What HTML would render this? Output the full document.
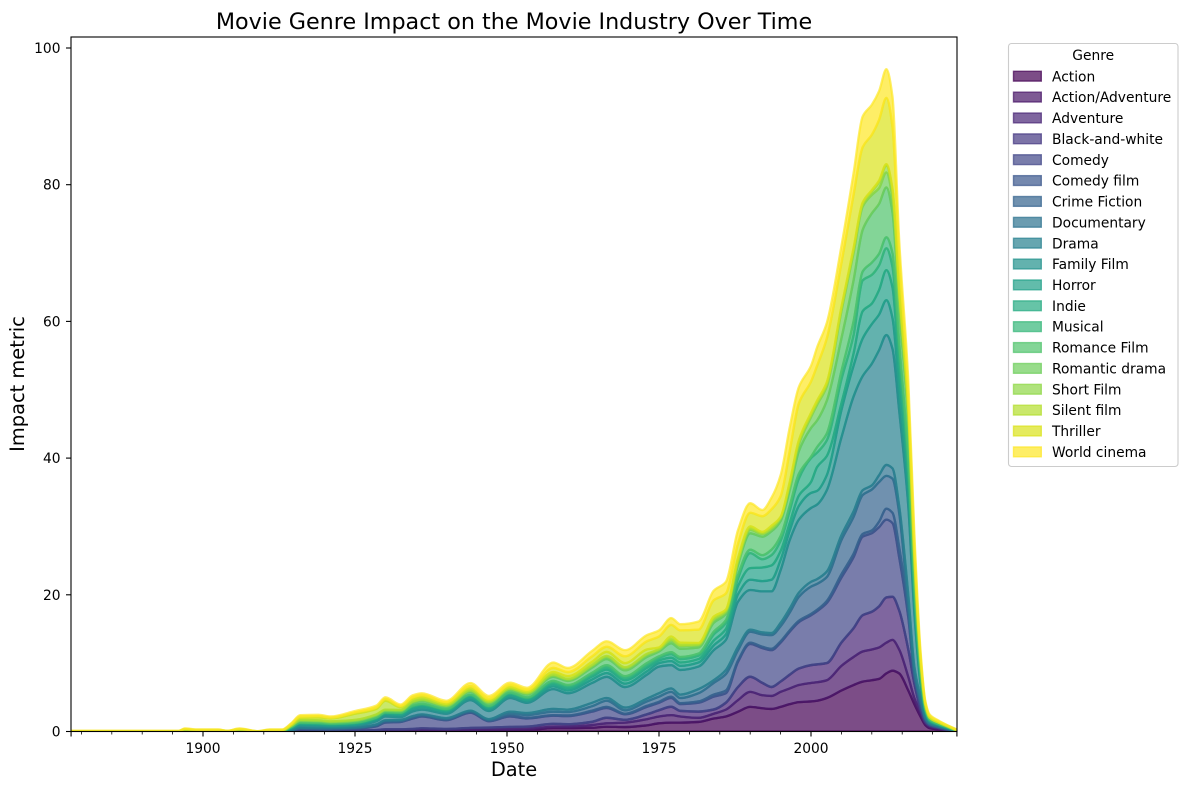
<!DOCTYPE html>
<html lang="en">
<head>
<meta charset="utf-8">
<title>Movie Genre Impact on the Movie Industry Over Time</title>
<style>
html,body{margin:0;padding:0;background:#fff;}
svg{display:block;font-family:"DejaVu Sans","Liberation Sans",sans-serif;}
</style>
</head>
<body>
<svg id="chart" xmlns="http://www.w3.org/2000/svg" width="1187" height="790" viewBox="0 0 1187 790">
  <rect x="0" y="0" width="1187" height="790" fill="#fff"/>
  <defs><clipPath id="plot-clip"><rect x="71" y="37" width="886" height="694.5"/></clipPath></defs>
  <g id="bands" clip-path="url(#plot-clip)"></g>
  <g id="ticks"></g>
  <rect x="71" y="37" width="886" height="694.5" fill="none" stroke="#000" stroke-width="1.1"/>
  <text x="514" y="29" font-size="22.25" text-anchor="middle" fill="#000">Movie Genre Impact on the Movie Industry Over Time</text>
  <text x="514" y="776" font-size="19.4" text-anchor="middle" fill="#000">Date</text>
  <text transform="translate(24 384) rotate(-90)" font-size="19.4" text-anchor="middle" fill="#000">Impact metric</text>
  <g id="legend">
    <rect x="1008.5" y="43.5" width="169.5" height="423" rx="3" ry="3" fill="#fff" fill-opacity="0.8" stroke="#ccc" stroke-width="1.1"/>
    <text x="1093.2" y="60" font-size="13.8" text-anchor="middle" fill="#000">Genre</text>
  </g>
</svg>
<script>
var genres = ["Action","Action/Adventure","Adventure","Black-and-white","Comedy","Comedy film","Crime Fiction","Documentary","Drama","Family Film","Horror","Indie","Musical","Romance Film","Romantic drama","Short Film","Silent film","Thriller","World cinema"];
var palette = ["#440154","#471467","#482576","#453781","#404688","#39558c","#33638d","#2c728e","#27808e","#21918c","#1f9f88","#25ab82","#35b779","#4ec36b","#6ccd5a","#8fd744","#b4de2c","#dae319","#fde725"];
var years = [1878,1896,1897,1899,1902.5,1904,1906,1909,1911,1913,
1914.5,1916,1919,1921,1925,1928.5,1930,1932.5,1934.5,1936,
1940,1944,1947,1950.5,1953.3,1957.6,1960,1964,1966.4,1969.4,
1973,1975,1977,1978.5,1981.5,1984,1986,1988,1990,1992,
1993.5,1995,1996.5,1998,2000,2001,2002.6,2005,2007,2008.5,2010,2011.2,
2012.4,2013.4,2014.5,2016,2017,2018,2018.8,2019.5,2021,2022.5,2024];
var action = [0,0,0,0,0,0,0,0,0,0,
.01,.02,.02,.02,.03,.05,.08,.08,.1,.12,
.1,.15,.15,.15,.2,.5,.5,.55,.7,.65,
.9,1.2,1.3,1.3,1.4,1.9,2.2,2.9,3.6,3.4,
3.3,3.6,4,4.3,4.4,4.5,4.9,6,6.8,7.3,7.5,7.7,
8.5,8.9,8.5,6,4,2.2,.95,.5,.3,.1,.01];
var actionAdventure = [0,0,0,0,0,0,0,0,0,0,
0,.01,.01,.01,.02,.03,.04,.04,.05,.06,
.05,.1,.15,.2,.2,.2,.2,.4,.5,.65,
.9,1,1.1,.9,.6,.7,1,1.7,2.2,1.9,
1.9,2.2,2.3,2.5,2.7,2.7,2.6,3.6,4.1,4.4,4.5,4.6,
4.5,4.5,3.5,2,.9,.6,.25,.2,.1,.05,.01];
var adventure = [0,0,0,0,0,0,0,0,0,0,
.02,.07,.07,.07,.07,.12,.18,.18,.2,.27,
.2,.25,.25,.3,.3,.4,.35,.45,.8,.4,
.7,.9,1.2,.8,.9,.6,1,1.9,2.2,1.8,
1.3,1.5,2,2.4,2.6,2.6,2.5,3.4,4.2,5.3,5.5,6,
6.6,6.3,5.7,4,2.1,.5,.2,.15,.1,.05,.01];
var blackAndWhite = [0,0,0,0,0,0,0,0,0,0,
0,0,0,0,.01,.02,.03,.03,.03,.03,
.03,.03,.03,.03,.02,.03,.03,.03,.03,.03,
.03,.03,.03,.03,.03,.03,.03,.03,.03,.03,
.03,.03,.03,.03,.03,.03,.03,.03,.03,.03,.03,.03,
.03,.03,.03,.03,.03,.03,.01,.01,0,0,0];
var comedy = [0,0,0,0,0,0,0,0,0,0,
.07,.25,.2,.2,.27,.53,.97,1.07,1.52,1.72,
1.27,2.22,.92,1.52,1.18,1.17,1.17,1.47,1.42,.77,
1.07,1.07,1.27,.97,1.27,1.87,1.37,3.67,4.77,5.07,
5.37,5.67,6.27,6.77,7.27,7.77,8.77,9.47,10.37,11.47,11.47,11.57,
11.37,10.77,7.77,4.67,.97,.67,.29,.14,.1,.1,.01];
var comedyFilm = [0,0,0,0,0,0,0,0,0,0,
.02,.05,.05,.05,.05,.05,.05,.05,.05,.05,
.05,.05,.05,.1,.1,.1,.1,.15,.15,.1,
.15,.15,.2,.15,.2,.3,.4,.2,.2,.2,
.2,.2,.2,.2,.2,.2,.3,.5,.5,.4,.4,.8,
1.6,1.5,1.5,.6,.2,.2,.1,.05,.02,.01,.01];
var crimeFiction = [0,0,0,0,0,0,0,0,0,0,
.03,.1,.1,.1,.1,.15,.2,.15,.2,.15,
.15,.15,.15,.3,.4,.5,.5,.65,.9,.5,
.65,.75,.7,.75,1.2,1.7,2.4,1.5,1.6,1.8,
2,2.2,2.6,3.5,4,3.8,3.5,5,5.4,5.7,6,5.8,
4.8,5,5,.9,.3,.3,.1,.05,.08,.04,.01];
var documentary = [0,0,0,0,0,0,0,0,0,0,
.03,.05,.05,.05,.05,.1,.1,.1,.1,.1,
.1,.1,.1,.3,.3,.4,.35,.5,.4,.4,
.4,.5,.5,.5,.6,.4,.6,.5,.3,.3,
.3,.5,.6,.6,.7,.7,.8,.7,.8,.7,.6,1,
1.6,1.5,1,1.8,1,.5,.2,.1,.05,.03,.01];
var drama = [.02,.02,.1,.06,.06,.03,.1,.01,.06,.06,
.17,.25,.25,.2,.25,.45,.55,.4,.7,.7,
.65,1.55,1.2,2,1.5,2.9,2.4,2.9,3.1,3,
3.5,3.9,3.4,3.6,3.3,4.4,4.4,6.6,5.8,6,
6.1,7.7,10,10.7,10.8,10.9,11.9,14.3,16.8,16.7,17.8,18.3,
19,17.5,14,13,7.8,2,.6,.2,.15,.07,.01];
var familyFilm = [0,0,.02,0,0,0,0,0,0,0,
.1,.2,.2,.15,.15,.25,.3,.3,.35,.35,
.3,.3,.3,.3,.3,.4,.4,.5,.55,.5,
.5,.5,.6,.6,.6,.7,.8,1.1,1.5,1.5,
1.7,1.5,1.4,2,2.2,2,2.2,4,4.5,5.5,5.8,5.2,
5.1,4.5,3,2,1.2,.5,.2,.1,.05,.05,.01];
var horror = [0,0,0,0,0,0,0,0,0,0,
.1,.15,.15,.15,.15,.15,.15,.2,.25,.25,
.2,.25,.2,.25,.25,.35,.35,.45,.5,.5,
.5,.4,.5,.5,.5,.7,.8,1.2,1.7,2,
2.1,1.3,1.1,1.5,1.6,3.5,2.8,1,1.8,4,3,3.6,
4.4,4.5,3,2,1.5,.5,.2,.1,.05,.05,.01];
var indie = [0,0,0,0,0,0,0,0,0,0,
.05,.1,.1,.1,.1,.1,.1,.1,.15,.15,
.1,.15,.15,.15,.15,.25,.25,.3,.35,.35,
.4,.35,.5,.5,.5,.9,.9,1.1,2.2,1.2,
1.5,1.5,1.8,2.5,3.5,2.1,2.3,3.5,2.7,4.5,4.2,3.6,
3.2,3,2.5,1.5,1,.5,.1,.1,.05,.03,.01];
var musical = [0,0,0,0,0,0,0,0,0,0,
.02,.05,.05,.05,.05,.05,.05,.05,.1,.1,
.1,.1,.1,.1,.1,.2,.2,.25,.3,.25,
.3,.25,.3,.3,.3,.4,.4,.5,.5,.6,
.8,.7,.7,.7,.2,.8,1,1.2,2,1.3,1.8,1.7,
1.6,2,1.5,1.5,.6,.3,.1,.05,.05,.02,.01];
var romanceFilm = [.02,.02,.08,.06,.06,.03,.1,.01,.06,.06,
.13,.2,.2,.15,.2,.25,.2,.2,.35,.4,
.35,.4,.35,.35,.4,.6,.6,.75,.9,.85,
.9,.7,1.3,1.2,.9,1.3,.9,1.5,2.4,2.7,
2.7,2.2,2.3,3.3,4.2,3.9,4.8,4.8,6,6.1,7.2,7.3,
7.3,6,5,5,2.4,1,.4,.2,.15,.1,.01];
var romanticDrama = [0,0,.02,0,0,0,0,0,0,0,
.05,.1,.1,.1,.1,.1,.1,.1,.15,.15,
.1,.15,.15,.15,.15,.2,.2,.25,.3,.3,
.3,.25,.4,.4,.3,.4,.3,.4,.5,.4,
.3,.4,.7,1,1.6,2.3,2.1,4,4,3.4,2.7,2.3,
2.2,2,1.5,1,.7,.4,.1,.05,.03,.02,.01];
var shortFilm = [0,0,.03,0,0,0,0,0,0,0,
.05,.1,.1,.1,.1,.1,.1,.1,.1,.1,
.1,.1,.1,.1,.1,.15,.1,.15,.15,.15,
.15,.1,.2,.15,.15,.2,.15,.2,.2,.1,
.2,.1,.2,.3,.3,.3,.3,.3,.4,.4,.5,.9,
1,1.2,1,1,.6,.3,.1,.05,.02,.01,.01];
var silentFilm = [.02,.02,.05,.06,.06,.02,.1,.01,.06,.06,
.1,.3,.4,.4,.9,.8,1.3,.4,.35,.35,
.2,.3,.2,.2,.2,.35,.4,.45,.6,.6,
.65,.25,.4,.35,.2,.3,.2,.4,.3,.2,
.3,.1,.3,.3,.3,.3,.3,.3,.3,.2,.2,.2,
.2,.2,.2,.2,.2,.1,.05,.05,.02,.01,.01];
var thriller = [.02,.02,.08,.07,.07,.02,.08,.01,.07,.07,
.15,.2,.2,.15,.2,.2,.25,.2,.25,.25,
.25,.3,.25,.3,.25,.6,.6,.8,.75,1,
1.2,1.6,1.7,1.8,1.95,2.4,2.35,2.1,2,2.3,
2.4,3,4.5,5.4,4.6,5.1,6.4,6.4,7.8,8.1,8.1,8.9,
9.7,9.1,5.3,2.3,2,.8,.35,.25,.18,.11,.1];
var worldCinema = [.02,.02,.07,.05,.05,.02,.07,.01,.05,.05,
.1,.2,.2,.15,.2,.3,.25,.2,.3,.3,
.2,.45,.4,.35,.3,.8,.6,.8,.8,.9,
.9,.9,1,.9,1.2,1.4,1.7,2,1.4,.9,
1.7,3.1,3.5,2.4,2.3,2.7,2.3,2.5,3.2,4.5,4.4,4.2,
4.2,4.4,2,1.9,1.5,.6,.2,.15,.1,.05,.03];
var seriesValues = [action,actionAdventure,adventure,blackAndWhite,comedy,comedyFilm,crimeFiction,documentary,drama,familyFilm,horror,indie,musical,romanceFilm,romanticDrama,shortFilm,silentFilm,thriller,worldCinema];
var xMajorTicks = [1900,1925,1950,1975,2000];
var xMinorTicks = [1880,1885,1890,1895,1905,1910,1915,1920,1930,1935,1940,1945,1955,1960,1965,1970,1980,1985,1990,1995,2005,2010,2015,2020];
var xEdgeTicks = [1878.3,2024];
var yTicks = [0,20,40,60,80,100];

var SVGNS = "http://www.w3.org/2000/svg";
function xScale(year){ return 203 + (year - 1900) * 6.08; }
function yScale(value){ return 731.5 - value * 6.835; }
function kebab(s){ return s.toLowerCase().replace(/[^a-z0-9]+/g,"-"); }

function tangents(xs, ys){
  var n = xs.length, sec = [], m = [], i;
  for(i = 0; i < n - 1; i++){ sec.push((ys[i+1]-ys[i])/(xs[i+1]-xs[i])); }
  m.push(sec[0]);
  for(i = 1; i < n - 1; i++){
    if(sec[i-1]*sec[i] <= 0){ m.push(0); }
    else{
      var h0 = xs[i]-xs[i-1], h1 = xs[i+1]-xs[i];
      var w1 = 2*h1+h0, w2 = h1+2*h0;
      m.push((w1+w2)/(w1/sec[i-1]+w2/sec[i]));
    }
  }
  m.push(sec[n-2]);
  return m;
}
function curve(xs, ys, reverse){
  var m = tangents(xs, ys), d = "", i, h;
  if(!reverse){
    for(i = 0; i < xs.length - 1; i++){
      h = (xs[i+1]-xs[i])/3;
      d += "C"+(xs[i]+h).toFixed(2)+" "+(ys[i]+m[i]*h).toFixed(2)+" "+(xs[i+1]-h).toFixed(2)+" "+(ys[i+1]-m[i+1]*h).toFixed(2)+" "+xs[i+1].toFixed(2)+" "+ys[i+1].toFixed(2);
    }
  } else {
    for(i = xs.length - 1; i > 0; i--){
      h = (xs[i]-xs[i-1])/3;
      d += "C"+(xs[i]-h).toFixed(2)+" "+(ys[i]-m[i]*h).toFixed(2)+" "+(xs[i-1]+h).toFixed(2)+" "+(ys[i-1]+m[i-1]*h).toFixed(2)+" "+xs[i-1].toFixed(2)+" "+ys[i-1].toFixed(2);
    }
  }
  return d;
}

var bandsGroup = document.getElementById("bands");
var pixelX = years.map(xScale);
var running = years.map(function(){ return 0; });
seriesValues.forEach(function(values, s){
  var lower = running.map(yScale);
  running = running.map(function(v, i){ return v + (values[i] || 0); });
  var upper = running.map(yScale);
  var d = "M"+pixelX[0].toFixed(2)+" "+upper[0].toFixed(2)+curve(pixelX, upper, false)+"L"+pixelX[pixelX.length-1].toFixed(2)+" "+lower[lower.length-1].toFixed(2)+curve(pixelX, lower, true)+"Z";
  var band = document.createElementNS(SVGNS, "path");
  band.setAttribute("d", d);
  band.setAttribute("fill", palette[s]);
  band.setAttribute("fill-opacity", "0.7");
  band.setAttribute("stroke", palette[s]);
  band.setAttribute("stroke-opacity", "0.7");
  band.setAttribute("stroke-width", "2.3");
  band.setAttribute("stroke-linejoin", "round");
  
  
  bandsGroup.appendChild(band);
});

var ticksGroup = document.getElementById("ticks");
function addLine(x1, y1, x2, y2, width){
  var line = document.createElementNS(SVGNS, "line");
  line.setAttribute("x1", x1);
  line.setAttribute("y1", y1);
  line.setAttribute("x2", x2);
  line.setAttribute("y2", y2);
  line.setAttribute("stroke", "#000");
  line.setAttribute("stroke-width", width);
  ticksGroup.appendChild(line);
  return line;
}
function addLabel(x, y, text, anchor){
  var label = document.createElementNS(SVGNS, "text");
  label.setAttribute("x", x);
  label.setAttribute("y", y);
  label.setAttribute("font-size", "13.8");
  label.setAttribute("text-anchor", anchor);
  label.setAttribute("fill", "#000");
  label.textContent = text;
  ticksGroup.appendChild(label);
  return label;
}
xMajorTicks.forEach(function(t){
  var mark = addLine(xScale(t), 731.5, xScale(t), 736.5, 1.1);
  
  
  var text = addLabel(xScale(t), 753, String(t), "middle");
  
  
});
xMinorTicks.forEach(function(t){
  var mark = addLine(xScale(t), 731.5, xScale(t), 734.5, 0.8);
  
  
});
xEdgeTicks.forEach(function(t){
  var mark = addLine(xScale(t), 731.5, xScale(t), 736.5, 1.1);
  
  
});
yTicks.forEach(function(t){
  var mark = addLine(66, yScale(t), 71, yScale(t), 1.1);
  
  
  var text = addLabel(60.5, yScale(t) + 5, String(t), "end");
  
  
});

var legendGroup = document.getElementById("legend");
genres.forEach(function(name, i){
  var rowY = 76.3 + i * 20.87;
  var entry = document.createElementNS(SVGNS, "g");
  
  
  var swatch = document.createElementNS(SVGNS, "rect");
  swatch.setAttribute("x", 1013.5);
  swatch.setAttribute("y", rowY - 5);
  swatch.setAttribute("width", 27.8);
  swatch.setAttribute("height", 9.8);
  swatch.setAttribute("fill", palette[i]);
  swatch.setAttribute("fill-opacity", "0.7");
  swatch.setAttribute("stroke", palette[i]);
  swatch.setAttribute("stroke-opacity", "0.7");
  swatch.setAttribute("stroke-width", "1.4");
  
  
  entry.appendChild(swatch);
  var label = document.createElementNS(SVGNS, "text");
  label.setAttribute("x", 1052);
  label.setAttribute("y", rowY + 5);
  label.setAttribute("font-size", "13.8");
  label.setAttribute("fill", "#000");
  
  
  label.textContent = name;
  entry.appendChild(label);
  legendGroup.appendChild(entry);
});
</script>
</body>
</html>
